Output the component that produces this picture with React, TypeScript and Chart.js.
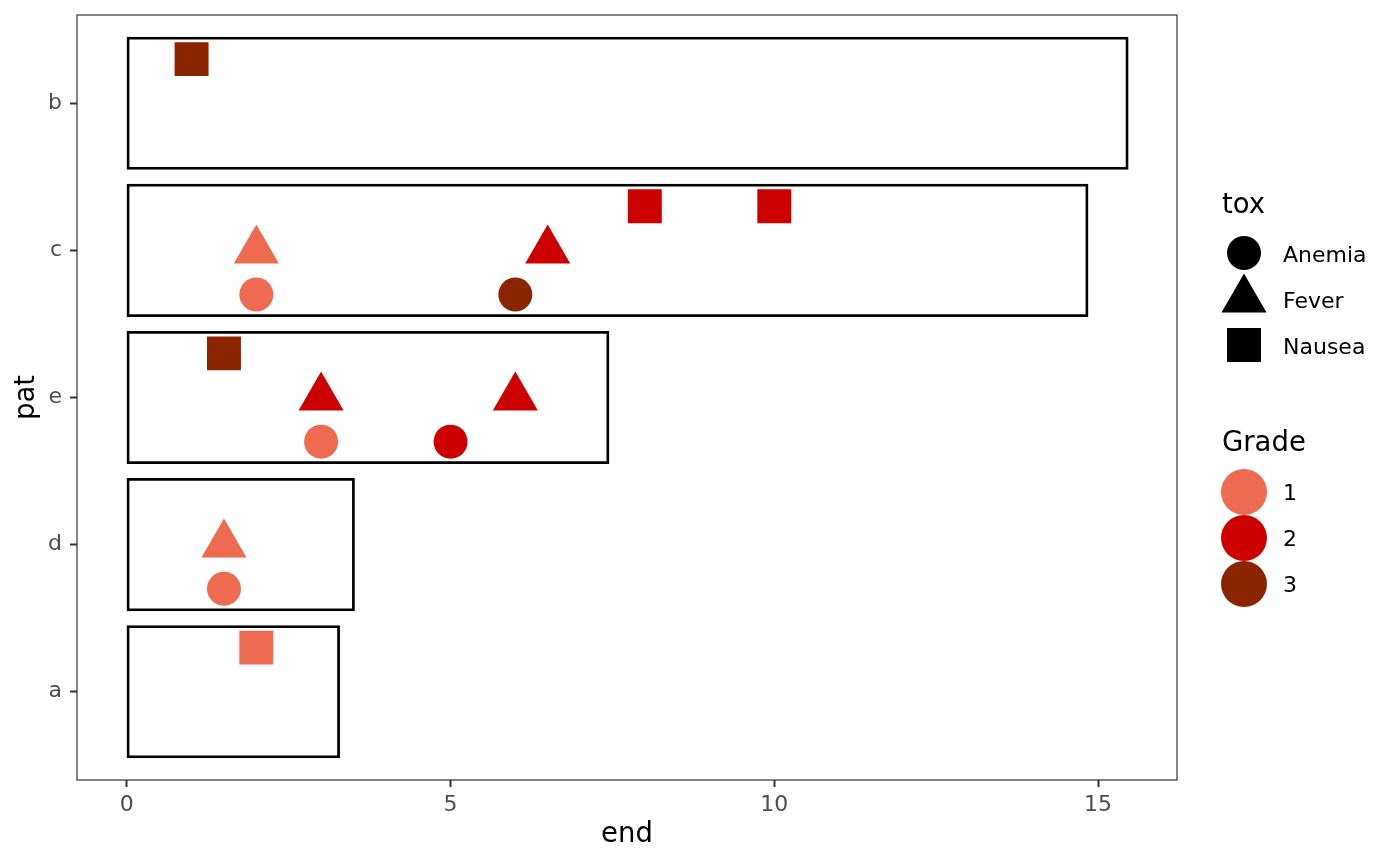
import React, { useEffect, useRef } from 'react';
import { Chart, registerables } from 'chart.js';

Chart.register(...registerables);

// ---- data ----
const PATIENTS = ['a', 'd', 'e', 'c', 'b']; // bottom to top
const END_TIME = [3.28, 3.51, 7.44, 14.84, 15.46];
const X_TICKS = [0, 5, 10, 15];

const EVENT_PATIENT = ['b', 'c', 'c', 'c', 'c', 'c', 'c', 'e', 'e', 'e', 'e', 'e', 'd', 'd', 'a'];
const EVENT_TIME = [1, 8, 10, 2, 6.5, 2, 6, 1.5, 3, 6, 3, 5, 1.5, 1.5, 2];
const EVENT_TOX = [
  'Nausea', 'Nausea', 'Nausea', 'Fever', 'Fever', 'Anemia', 'Anemia',
  'Nausea', 'Fever', 'Fever', 'Anemia', 'Anemia',
  'Fever', 'Anemia',
  'Nausea',
];
const EVENT_GRADE = [3, 2, 2, 1, 2, 1, 3, 3, 2, 2, 1, 2, 1, 1, 1];

const TOX_LEVELS = ['Anemia', 'Fever', 'Nausea'];
const GRADE_LEVELS = ['1', '2', '3'];

// ---- styles ----
const GRADE_COLORS = ['#EE6A50', '#CD0000', '#8B2500'];
const TOX_OFFSET: Record<string, number> = { Anemia: -0.3, Fever: 0, Nausea: 0.3 };
const TOX_STYLE: Record<string, string> = { Anemia: 'circle', Fever: 'triangle', Nausea: 'rect' };
const TOX_RADIUS: Record<string, number> = { Anemia: 17, Fever: 26, Nausea: 24 };
const FONT = 'DejaVu Sans';

function drawShape(ctx: CanvasRenderingContext2D, style: string, x: number, y: number, r: number) {
  ctx.beginPath();
  if (style === 'circle') {
    ctx.arc(x, y, r, 0, Math.PI * 2);
  } else if (style === 'triangle') {
    for (let k = 0; k < 3; k++) {
      const a = (k * 2 * Math.PI) / 3;
      const px = x + Math.sin(a) * r;
      const py = y - Math.cos(a) * r;
      if (k === 0) ctx.moveTo(px, py);
      else ctx.lineTo(px, py);
    }
    ctx.closePath();
  } else {
    const s = Math.SQRT1_2 * r;
    ctx.rect(x - s, y - s, 2 * s, 2 * s);
  }
  ctx.fill();
}

const panelAndLegend = {
  id: 'panelAndLegend',
  afterDraw(chart: any) {
    const { ctx, chartArea } = chart;
    ctx.save();
    // panel border
    ctx.strokeStyle = '#333333';
    ctx.lineWidth = 1.2;
    ctx.strokeRect(chartArea.left, chartArea.top, chartArea.right - chartArea.left, chartArea.bottom - chartArea.top);

    // legend
    const lx = chartArea.right + 45; // left of legend titles
    const kx = chartArea.right + 67; // key centre
    const tx = chartArea.right + 106; // label left
    ctx.fillStyle = '#000000';
    ctx.textBaseline = 'alphabetic';
    ctx.textAlign = 'left';
    ctx.font = `27.5px "${FONT}"`;
    ctx.fillText('tox', lx, 213);
    const toxKeyY = [253, 299.5, 345];
    const toxLabY = [262, 308, 354];
    TOX_LEVELS.forEach((t, i) => {
      ctx.fillStyle = '#000000';
      drawShape(ctx, TOX_STYLE[t], kx, toxKeyY[i], TOX_RADIUS[t]);
      ctx.font = `22px "${FONT}"`;
      ctx.fillText(t, tx, toxLabY[i]);
    });
    ctx.font = `27.5px "${FONT}"`;
    ctx.fillStyle = '#000000';
    ctx.fillText('Grade', lx, 451);
    const gKeyY = [492, 538, 584];
    const gLabY = [500, 546, 592];
    GRADE_LEVELS.forEach((g, i) => {
      ctx.fillStyle = GRADE_COLORS[i];
      drawShape(ctx, 'circle', kx, gKeyY[i], 23);
      ctx.fillStyle = '#000000';
      ctx.font = `22px "${FONT}"`;
      ctx.fillText(g, tx, gLabY[i]);
    });
    ctx.restore();
  },
};

export default function App() {
  const ref = useRef<HTMLCanvasElement | null>(null);

  useEffect(() => {
    document.body.style.margin = '0';
    if (!ref.current) return;
    Chart.defaults.font.family = FONT;

    const barData = PATIENTS.map((p, i) => ({ y: i + 1, x: [0, END_TIME[i]] }));

    const pointSets = TOX_LEVELS.map((t) => {
      const idx = EVENT_TOX.map((v, i) => (v === t ? i : -1)).filter((i) => i >= 0);
      return {
        type: 'scatter' as const,
        label: t,
        data: idx.map((i) => ({ x: EVENT_TIME[i], y: PATIENTS.indexOf(EVENT_PATIENT[i]) + 1 + TOX_OFFSET[t] })),
        pointStyle: TOX_STYLE[t],
        pointRadius: TOX_RADIUS[t],
        pointHoverRadius: TOX_RADIUS[t],
        pointBackgroundColor: idx.map((i) => GRADE_COLORS[EVENT_GRADE[i] - 1]),
        pointBorderWidth: 0,
        showLine: false,
        order: 0,
      };
    });

    const zeroPad = (s: any) => {
      s.paddingTop = 0;
      s.paddingBottom = 0;
      s.paddingLeft = 0;
      s.paddingRight = 0;
    };

    const chart = new Chart(ref.current, {
      type: 'scatter',
      data: {
        datasets: [
          {
            type: 'bar',
            label: 'follow-up',
            indexAxis: 'y',
            data: barData as any,
            backgroundColor: 'rgba(0,0,0,0)',
            borderColor: '#000000',
            borderWidth: 1.3,
            borderSkipped: false,
            inflateAmount: 0.75,
            categoryPercentage: 0.895,
            barPercentage: 1,
            grouped: false,
            order: 10,
          } as any,
          ...pointSets,
        ],
      },
      options: {
        animation: false,
        responsive: true,
        maintainAspectRatio: false,
        layout: { autoPadding: false, padding: { top: 15, right: 223, left: 0, bottom: 0 } },
        plugins: { legend: { display: false }, tooltip: { enabled: false } },
        scales: {
          x: {
            type: 'linear',
            offset: false,
            min: -0.77,
            max: 16.22,
            afterBuildTicks: (s: any) => {
              s.ticks = X_TICKS.map((v) => ({ value: v }));
            },
            afterFit: (s: any) => {
              s.height = 85;
              zeroPad(s);
            },
            border: { display: false },
            grid: { offset: false, drawOnChartArea: false, drawTicks: true, tickLength: 7, tickColor: '#333333', tickWidth: 2 },
            ticks: { color: '#4D4D4D', font: { size: 22, family: FONT }, padding: 5, maxRotation: 0 },
            title: { display: true, text: 'end', color: '#000000', font: { size: 27.5, family: FONT }, padding: { top: 0, bottom: 14 } },
          },
          y: {
            type: 'linear',
            offset: false,
            min: 0.4,
            max: 5.6,
            afterBuildTicks: (s: any) => {
              s.ticks = PATIENTS.map((p, i) => ({ value: i + 1 }));
            },
            afterFit: (s: any) => {
              s.width = 77;
              zeroPad(s);
            },
            border: { display: false },
            grid: { offset: false, drawOnChartArea: false, drawTicks: true, tickLength: 7, tickColor: '#333333', tickWidth: 2 },
            ticks: {
              color: '#4D4D4D',
              font: { size: 22, family: FONT },
              padding: 8,
              callback: (v: any) => PATIENTS[Math.round(Number(v)) - 1] ?? '',
            },
            title: { display: true, text: 'pat', color: '#000000', font: { size: 27.5, family: FONT }, padding: { top: 10, bottom: 0 } },
          },
        },
      },
      plugins: [panelAndLegend],
    } as any);

    return () => chart.destroy();
  }, []);

  return (
    <div style={{ position: 'absolute', left: 0, top: 0, width: 1400, height: 865, background: '#ffffff' }}>
      <canvas ref={ref} />
    </div>
  );
}
